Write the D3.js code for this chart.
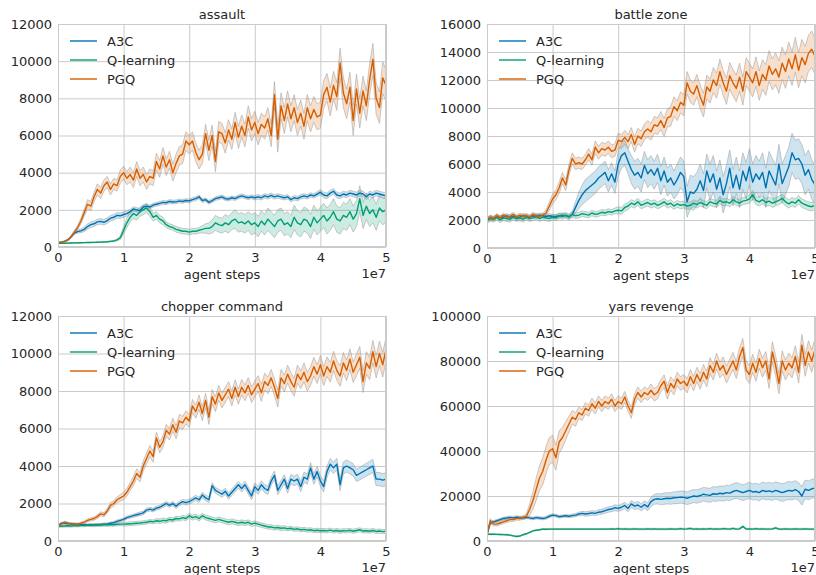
<!DOCTYPE html>
<html><head><meta charset="utf-8">
<script src="https://cdn.jsdelivr.net/npm/d3@7"></script>
<style>body{margin:0;background:#fff}svg{display:block;font-family:"DejaVu Sans",sans-serif}</style>
</head><body><svg id="c" width="816" height="575"></svg>
<script>
// x positions in millions of agent steps
const steps = [0,0.5,1,1.5,2,2.5,3,3.5,4,4.5,5,5.5,6,6.5,7,7.5,8,8.5,9,9.5,
10,10.5,11,11.5,12,12.5,13,13.5,14,14.5,15,15.5,16,16.5,17,17.5,18,18.5,19,19.5,
20,20.5,21,21.5,22,22.5,23,23.5,24,24.5,25,25.5,26,26.5,27,27.5,28,28.5,29,29.5,
30,30.5,31,31.5,32,32.5,33,33.5,34,34.5,35,35.5,36,36.5,37,37.5,38,38.5,39,39.5,
40,40.5,41,41.5,42,42.5,43,43.5,44,44.5,45,45.5,46,46.5,47,47.5,48,48.5,49,49.5,50];

const seriesNames = ["A3C","Q-learning","PGQ"];
const titles = ["assault","battle zone","chopper command","yars revenge"];
const yMaxes = [12000,16000,12000,100000];
const yTicks = [
  [0,2000,4000,6000,8000,10000,12000],
  [0,2000,4000,6000,8000,10000,12000,14000,16000],
  [0,2000,4000,6000,8000,10000,12000],
  [0,20000,40000,60000,80000,100000]
];
const xTickValues = [0,10,20,30,40,50];
const xTickLabels = ["0","1","2","3","4","5"];
const xLabel = "agent steps";
const xOffsetLabel = "1e7";

// ---------- assault ----------
const assaultA3C = [250,260,300,380,550,750,830,870,950,1100,
1200,1250,1350,1380,1330,1420,1550,1600,1700,1680,
1750,1800,1900,2050,2000,1950,2150,2200,2150,2250,
2300,2350,2400,2380,2450,2420,2430,2480,2450,2500,
2480,2550,2600,2700,2500,2550,2400,2500,2600,2650,
2700,2600,2580,2650,2600,2700,2750,2700,2650,2700,
2650,2700,2650,2750,2700,2780,2700,2750,2700,2650,
2700,2550,2650,2600,2700,2750,2700,2800,2750,2850,
2950,2800,2750,2900,3000,2800,2750,2850,2800,2900,
2850,2800,2900,2850,2700,2850,2800,2900,2850,2800,
2750];
const assaultA3CSpread = [10,10,20,30,40,60,80,100,120,150,
150,150,150,150,150,150,150,150,150,150,
150,150,120,120,120,120,120,100,100,100,
100,100,100,100,100,100,100,100,100,100,
100,100,100,100,100,100,100,100,100,100,
100,100,100,100,100,100,100,100,100,100,
120,120,120,120,120,120,120,120,120,120,
120,120,120,120,120,120,120,120,120,120,
150,150,150,150,150,150,150,150,150,150,
150,150,150,150,150,150,150,150,150,150,
150];
const assaultQ = [200,200,205,210,215,220,225,230,235,240,
245,250,255,260,270,280,300,320,380,500,
900,1300,1600,1800,1700,1900,2000,2100,1900,1600,
1700,1500,1400,1200,1100,1050,950,900,850,850,
800,850,850,900,950,1000,1000,1100,1300,1200,
1150,1300,1200,1400,1500,1300,1350,1250,1400,1200,
1300,1100,1400,1200,1500,1300,1100,1400,1500,1200,
1300,1100,1600,1300,1200,1500,1400,1100,1600,1300,
1500,1700,1400,1600,1900,1500,1400,1700,1600,1900,
1500,1800,2600,1700,2200,1800,2000,1600,2100,1900,
2000];
const assaultQSpread = [15,15,15,15,15,15,15,15,15,15,
15,15,15,15,15,20,25,30,50,100,
200,250,250,250,250,250,250,250,250,200,
200,200,200,150,150,150,150,150,150,150,
150,150,150,150,200,250,300,350,400,400,
400,450,450,450,500,500,500,500,500,550,
550,550,550,550,600,600,600,600,600,600,
600,600,650,650,650,650,650,650,650,650,
650,650,700,700,700,700,700,700,700,700,
700,700,700,700,700,700,700,700,700,700,
700];
const assaultPGQ = [250,260,300,380,550,800,1050,1400,1850,2300,
2200,2700,3100,2900,3300,3500,3100,3400,3300,3800,
4000,3700,3900,3600,4200,3700,3900,3500,3800,3700,
4600,4200,4900,4300,4700,4000,4500,4900,5000,5700,
5500,5700,5100,4700,5000,6100,5200,6000,4600,6200,
6100,5600,6300,5800,6700,5900,6500,6000,7000,6300,
6700,6100,6600,6400,6900,6000,8200,5800,7600,6800,
7700,6900,7500,6700,7200,6500,7500,6900,7400,7000,
7100,8200,8600,7800,8700,8100,9900,8300,7700,8600,
6800,8500,7200,8400,7600,9000,10100,8000,7500,9100,
8700];
const assaultPGQSpread = [30,30,40,50,80,100,120,150,200,250,
250,250,300,300,300,300,300,300,300,350,
350,350,400,400,400,400,400,400,400,400,
450,450,450,450,450,450,500,500,500,500,
500,500,500,500,500,500,550,550,550,550,
550,550,550,550,550,600,600,600,600,600,
600,600,600,600,600,600,700,700,700,700,
700,700,700,700,700,700,700,700,700,700,
700,750,750,750,750,750,800,800,800,800,
800,800,800,800,800,850,850,850,850,850,
850];

// ---------- battle zone ----------
const battleA3C = [2000,2150,2100,2250,2150,2200,2300,2200,2250,2150,
2200,2300,2250,2200,2300,2250,2350,2300,2250,2300,
2250,2250,2300,2350,2300,2250,2400,2900,3400,3800,
4100,4300,4500,4700,5000,5200,5400,4800,5300,4700,
6000,6600,6800,6200,5600,5200,5400,5000,5900,5300,
5600,5200,5700,4800,5500,4700,5000,4500,4900,5400,
5100,3300,4000,3900,4200,4800,4100,5500,4700,5300,
4200,5000,3800,4600,5700,4300,5200,4200,5500,4800,
5800,4700,5300,4900,5400,4300,5500,5000,4500,6000,
4600,5200,5800,6800,6300,6400,6000,5200,5600,4900,
4500];
const battleA3CSpread = [150,150,150,150,150,150,150,150,150,150,
150,150,150,150,150,150,150,150,150,150,
150,150,150,150,150,150,200,400,600,700,
800,800,800,800,800,800,800,800,800,800,
900,900,900,900,1000,1000,1000,1000,1000,1000,
1000,1000,1000,1000,1000,1000,1000,1000,1100,1100,
1100,1100,1200,1200,1200,1200,1200,1200,1300,1300,
1300,1300,1300,1300,1300,1300,1300,1300,1300,1300,
1300,1300,1300,1300,1400,1400,1400,1400,1400,1400,
1400,1400,1400,1400,1400,1400,1400,1400,1400,1400,
1400];
const battleQ = [1950,2100,2050,2200,2000,2150,2100,2050,2200,2100,
2150,2050,2200,2100,2150,2250,2100,2200,2150,2100,
2200,2150,2300,2250,2350,2200,2400,2300,2350,2450,
2400,2350,2500,2400,2450,2550,2500,2600,2550,2650,
2700,2650,2900,3000,3200,3100,3300,3050,3150,3250,
3100,3200,3050,3150,3300,3100,3200,3000,3150,3050,
3100,3000,3050,3200,3100,3250,3150,3050,3300,3200,
3150,3400,3250,3300,3200,3450,3300,3200,3350,3400,
3500,3800,3400,3300,3450,3250,3350,3200,3300,3400,
3550,3300,3150,3300,3200,3450,3200,3100,3000,2950,
3050];
const battleQSpread = [200,200,200,200,200,200,200,200,200,200,
200,200,200,200,200,200,200,200,200,200,
200,200,200,200,200,200,200,200,200,200,
200,200,200,200,200,200,200,200,200,200,
250,250,250,250,250,250,250,250,250,250,
250,250,250,250,250,250,250,250,250,250,
250,250,250,250,250,250,250,250,250,250,
250,250,250,250,250,250,250,250,250,250,
300,300,300,300,300,300,300,300,300,300,
300,300,300,300,300,300,300,300,300,300,
300];
const battlePGQ = [2050,2200,2100,2300,2150,2350,2200,2250,2400,2200,
2350,2250,2300,2200,2400,2300,2250,2350,2500,3000,
3500,3800,4300,5000,4500,5600,6400,6000,6100,6000,
6300,6700,6300,7200,6800,7100,7000,7200,6900,7000,
7700,7600,7900,7600,8100,7400,8000,7800,8300,8500,
8300,8800,8700,9100,8600,9300,9400,10100,9800,10400,
10200,11800,11200,11000,11600,10800,10200,11500,11200,12000,
11600,12600,11800,11200,12300,11800,11400,12200,11200,12600,
12200,11800,12600,11600,12400,12000,13000,12400,12800,12200,
13200,12600,13500,12800,13800,12700,13600,13100,13900,14200,
13700];
const battlePGQSpread = [150,150,150,150,150,150,150,150,150,150,
150,150,150,150,150,150,150,150,200,300,
350,350,400,400,400,400,400,400,400,400,
400,400,400,450,450,450,450,450,450,450,
500,500,500,500,500,550,550,550,550,600,
600,600,600,650,650,650,700,700,700,750,
750,800,800,800,800,850,850,850,850,900,
900,900,900,950,950,950,950,1000,1000,1000,
1000,1000,1050,1050,1050,1100,1100,1100,1150,1150,
1150,1200,1200,1200,1250,1250,1300,1300,1300,1300,
1300];

// ---------- chopper command ----------
const chopperA3C = [800,950,950,930,920,900,900,880,870,860,
850,860,870,880,900,900,950,980,1050,1100,
1150,1250,1300,1350,1400,1450,1500,1650,1700,1650,
1750,1800,1900,2000,1900,2000,1850,2000,2100,2050,
2100,2200,2300,2200,2450,2300,2200,2950,2700,2600,
2500,2650,2400,2600,2800,3000,2800,3000,2700,2400,
2900,2700,3000,2800,2700,3200,3500,2700,3000,3300,
2800,3300,3200,3300,2900,3400,3300,3900,3300,3700,
3200,2900,3700,4100,3900,4100,3000,3900,4000,3900,
3800,3500,3600,3700,3800,3900,4000,3300,3300,3250,
3300];
const chopperA3CSpread = [50,50,50,50,50,50,50,50,50,50,
50,50,50,50,50,60,60,60,70,70,
80,80,80,90,90,100,100,100,100,100,
100,100,110,110,110,120,120,120,120,130,
130,130,140,140,150,150,150,160,160,160,
170,170,170,180,180,180,190,190,200,200,
200,210,210,220,220,220,230,230,240,240,
250,250,250,260,260,270,270,280,280,280,
290,290,300,300,300,310,310,320,320,320,
330,330,340,340,340,350,350,350,350,350,
350];
const chopperQ = [800,790,800,810,800,820,810,830,820,840,
850,840,860,850,870,860,880,870,890,900,
900,910,920,930,950,960,980,1000,1050,1020,
1080,1050,1100,1080,1150,1120,1200,1180,1250,1200,
1350,1250,1300,1200,1350,1250,1200,1150,1100,1150,
1100,1050,1000,1050,1000,950,1000,950,1000,900,
950,900,850,800,750,750,700,720,680,700,
650,680,620,650,600,620,580,600,550,570,
550,560,540,580,530,560,520,550,540,570,
520,560,600,530,550,520,560,510,530,500,
520];
const chopperQSpread = [60,60,60,60,60,60,60,60,60,60,
80,80,80,80,80,80,80,80,80,80,
100,100,100,100,100,100,100,100,100,100,
120,120,120,120,120,120,120,120,120,120,
130,130,130,130,130,130,130,130,130,130,
130,130,130,130,130,130,130,130,130,130,
120,120,120,120,120,120,120,120,120,120,
110,110,110,110,110,110,110,110,110,110,
110,110,110,110,110,110,110,110,110,110,
110,110,110,110,110,110,110,110,110,110,
110];
const chopperPGQ = [800,900,1000,950,900,900,880,950,1000,1100,
1150,1200,1300,1450,1400,1600,1900,2000,2200,2300,
2400,2600,2900,3200,3600,3400,4000,4400,4800,4500,
5500,5000,5300,5900,5700,6200,5800,6400,6300,6600,
6400,7200,6900,7400,6800,7500,6600,7700,7300,7900,
7500,7800,8100,7600,8200,7700,8200,7900,8300,7800,
8100,8400,7900,8500,8300,8700,8200,7600,8700,8400,
8900,8500,8200,8900,8600,9000,8500,8800,9300,8900,
9400,8800,9300,9000,9600,9100,8800,9500,9100,9700,
9000,9400,9800,8500,9500,9200,10100,9300,10000,9400,
10200];
const chopperPGQSpread = [50,50,60,60,60,60,60,60,70,80,
80,90,100,100,120,120,150,150,150,180,
200,200,220,250,250,250,280,300,300,300,
300,300,320,320,320,350,350,350,350,350,
350,350,350,380,380,380,380,380,400,400,
400,400,400,400,400,400,420,420,420,420,
420,420,450,450,450,450,450,450,450,450,
480,480,480,480,480,500,500,500,500,500,
500,500,520,520,520,520,550,550,550,550,
550,580,580,580,600,600,600,600,650,650,
650];

// ---------- yars revenge ----------
const yarsA3C = [3000,8000,8500,9000,9500,10000,10200,10500,10300,10600,
10400,10200,10500,10300,10000,10400,10200,10000,10300,11000,
11500,11300,10800,11000,11200,11000,11300,11500,12000,12300,
12000,12200,12500,12300,12800,13000,13500,14000,14200,14800,
14500,15000,15800,14500,16500,15500,16000,15000,16200,15200,
17500,18500,18800,18500,18800,19000,18900,19200,19300,19500,
19400,19000,19500,20000,19800,20200,20800,20500,20300,21000,
20800,21200,21000,21500,21300,22000,22500,22000,21500,22000,
22500,21800,22000,21500,22500,22000,22300,21800,22500,22000,
21500,22000,22500,22200,22800,22000,20000,23000,22500,23200,
23500];
const yarsA3CSpread = [500,800,600,600,600,600,600,600,600,600,
600,600,600,600,600,600,600,600,600,600,
600,600,600,600,600,600,700,700,800,900,
1000,1000,1000,1000,1100,1100,1200,1200,1200,1300,
1300,1400,1400,1500,1500,1500,1600,1600,1700,1700,
2000,2200,2300,2400,2500,2500,2600,2600,2700,2700,
2800,2800,2900,2900,3000,3000,3000,3100,3100,3200,
3200,3200,3300,3300,3400,3400,3500,3500,3500,3500,
3600,3600,3600,3700,3700,3700,3800,3800,3800,3900,
3900,3900,4000,4000,4000,4000,4100,4100,4200,4200,
4200];
const yarsQ = [3000,3000,3000,2950,2900,2850,2800,2600,2300,2000,
2200,2800,3200,3800,4500,4800,5000,5300,5200,5300,
5300,5300,5300,5300,5300,5300,5300,5300,5300,5300,
5300,5300,5300,5300,5300,5300,5300,5300,5400,5300,
5500,5300,5400,5300,5300,5400,5300,5300,5300,5400,
5300,5400,5300,5300,5300,5300,5400,5300,5300,5500,
5300,5400,5600,5300,5400,5300,5400,5300,5500,5300,
5400,5300,5500,5400,5300,5600,5300,5400,6500,5300,
5400,5300,5500,5300,5400,5300,5300,5400,5800,5300,
5300,5400,5300,5300,5400,5300,5300,5400,5300,5300,
5300];
const yarsQSpread = [200,200,200,200,200,200,200,200,200,200,
200,200,200,200,200,200,200,200,200,200,
250,250,250,250,250,250,250,250,250,250,
250,250,250,250,250,250,250,250,250,250,
300,300,300,300,300,300,300,300,300,300,
300,300,300,300,300,300,300,300,300,300,
300,300,300,300,300,300,300,300,300,300,
300,300,300,300,300,300,300,300,300,300,
300,300,300,300,300,300,300,300,300,300,
300,300,300,300,300,300,300,300,300,300,
300];
const yarsPGQ = [3000,9000,7500,7500,8000,8500,9000,9500,9500,10000,
10000,10500,11000,14000,18000,23000,28000,31000,36000,40000,
41000,37000,44000,46000,49000,52000,55000,54000,57000,56000,
59000,58000,61000,59000,62000,60000,62000,61000,63000,60000,
62000,61000,64000,60000,57000,63000,66000,64000,66000,65000,
67000,65000,66000,69000,71000,66000,70000,68000,72000,70000,
71000,69000,73000,70000,74000,71000,75000,72000,78000,75000,
80000,76000,78000,74000,77000,80000,76000,82000,86000,76000,
74000,79000,75000,81000,77000,80000,72000,84000,78000,70000,
80000,76000,79000,77000,82000,75000,87000,78000,84000,80000,
85000];
const yarsPGQSpread = [500,1000,800,800,800,800,800,800,800,800,
800,800,1000,2500,4000,5000,5500,6000,6000,6000,
6000,5500,5000,4500,4000,3500,3000,3000,2500,2500,
2500,2500,2500,2500,2500,2500,2500,2500,2500,2500,
2500,2500,2500,2500,2500,2500,2500,2500,2500,2500,
2800,2800,2800,2800,2800,3000,3000,3000,3000,3000,
3000,3200,3200,3200,3200,3500,3500,3500,3500,3500,
3500,3500,3800,3800,3800,3800,3800,4000,4000,4000,
4000,4000,4000,4200,4200,4200,4200,4500,4500,4500,
4500,4500,4500,4500,4800,4800,4800,4800,5000,5000,
5000];

// ---------- assemble ----------
const panelData = [
  [[assaultA3C,assaultA3CSpread],[assaultQ,assaultQSpread],[assaultPGQ,assaultPGQSpread]],
  [[battleA3C,battleA3CSpread],[battleQ,battleQSpread],[battlePGQ,battlePGQSpread]],
  [[chopperA3C,chopperA3CSpread],[chopperQ,chopperQSpread],[chopperPGQ,chopperPGQSpread]],
  [[yarsA3C,yarsA3CSpread],[yarsQ,yarsQSpread],[yarsPGQ,yarsPGQSpread]]
];

// layout & style
const layout = [
  {x0:58,x1:386,y0:24,y1:247},
  {x0:487,x1:815,y0:24,y1:248},
  {x0:58,x1:386,y0:316,y1:541},
  {x0:487,x1:815,y0:316,y1:541}
];
const colors = ["#0072B2","#009E73","#D55E00"];
const gridColor = "#cbcbcb";
const textColor = "#262626";
const fontSize = 13;

const svg = d3.select("#c");

panelData.forEach((series, pi) => {
  const L = layout[pi];
  const x = d3.scaleLinear().domain([0,50]).range([L.x0, L.x1]);
  const y = d3.scaleLinear().domain([0, yMaxes[pi]]).range([L.y1, L.y0]);
  const g = svg.append("g");

  // y axis with grid
  const ya = g.append("g").attr("transform", `translate(${L.x0},0)`)
    .call(d3.axisLeft(y).tickValues(yTicks[pi]).tickFormat(d3.format("d"))
      .tickSize(-(L.x1 - L.x0)).tickPadding(6));
  ya.select(".domain").remove();
  ya.selectAll("line").attr("stroke", gridColor);
  ya.selectAll("text").attr("fill", textColor).style("font-size", fontSize + "px")
    .style("font-family", '"DejaVu Sans", sans-serif');

  // x axis with grid
  const xa = g.append("g").attr("transform", `translate(0,${L.y1})`)
    .call(d3.axisBottom(x).tickValues(xTickValues).tickFormat((d,i) => xTickLabels[i])
      .tickSize(-(L.y1 - L.y0)).tickPadding(6));
  xa.select(".domain").remove();
  xa.selectAll("line").attr("stroke", gridColor);
  xa.selectAll("text").attr("fill", textColor).style("font-size", fontSize + "px")
    .style("font-family", '"DejaVu Sans", sans-serif');

  // clip
  const cid = "clip" + pi;
  svg.append("clipPath").attr("id", cid).append("rect")
    .attr("x", L.x0).attr("y", L.y0).attr("width", L.x1 - L.x0).attr("height", L.y1 - L.y0);
  const plot = g.append("g").attr("clip-path", `url(#${cid})`);

  const area = d3.area().x((d,i) => x(steps[i])).y0(d => y(d[0] - d[1])).y1(d => y(d[0] + d[1]));
  const line = d3.line().x((d,i) => x(steps[i])).y(d => y(d));
  const lo = d3.line().x((d,i) => x(steps[i])).y(d => y(d[0] - d[1]));
  const hi = d3.line().x((d,i) => x(steps[i])).y(d => y(d[0] + d[1]));

  series.forEach(([v, s], si) => {
    const pairs = v.map((d,i) => [d, s[i]]);
    plot.append("path").attr("d", area(pairs)).attr("fill", colors[si]).attr("fill-opacity", 0.2);
    plot.append("path").attr("d", lo(pairs)).attr("fill", "none").attr("stroke", "#9a9a9a").attr("stroke-opacity", 0.5).attr("stroke-width", 1);
    plot.append("path").attr("d", hi(pairs)).attr("fill", "none").attr("stroke", "#9a9a9a").attr("stroke-opacity", 0.5).attr("stroke-width", 1);
  });
  series.forEach(([v], si) => {
    plot.append("path").attr("d", line(v)).attr("fill", "none").attr("stroke", colors[si])
      .attr("stroke-width", 1.4).attr("stroke-linejoin", "round");
  });

  // frame
  g.append("rect").attr("x", L.x0 + 0.5).attr("y", L.y0 + 0.5)
    .attr("width", L.x1 - L.x0 - 1).attr("height", L.y1 - L.y0 - 1)
    .attr("fill", "none").attr("stroke", gridColor);

  // title
  g.append("text").attr("x", (L.x0 + L.x1) / 2).attr("y", L.y0 - 5)
    .attr("text-anchor", "middle").attr("fill", textColor).style("font-size", fontSize + "px")
    .text(titles[pi]);
  // x label
  g.append("text").attr("x", (L.x0 + L.x1) / 2).attr("y", L.y1 + 32)
    .attr("text-anchor", "middle").attr("fill", textColor).style("font-size", fontSize + "px")
    .text(xLabel);
  g.append("text").attr("x", L.x1).attr("y", L.y1 + 31)
    .attr("text-anchor", "end").attr("fill", textColor).style("font-size", fontSize + "px")
    .text(xOffsetLabel);

  // legend
  const leg = g.append("g");
  seriesNames.forEach((name, si) => {
    const ly = L.y0 + 17 + si * 19;
    leg.append("line").attr("x1", L.x0 + 12).attr("x2", L.x0 + 39).attr("y1", ly).attr("y2", ly)
      .attr("stroke", colors[si]).attr("stroke-width", 1.4);
    leg.append("text").attr("x", L.x0 + 49).attr("y", ly).attr("dy", "0.35em")
      .attr("fill", textColor).style("font-size", fontSize + "px").text(name);
  });
});
</script>
</body></html>
